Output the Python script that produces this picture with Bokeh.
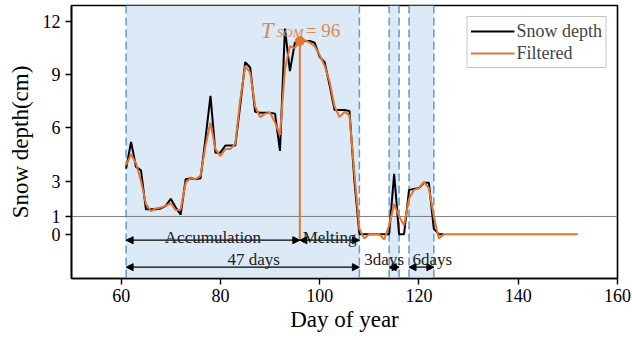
from bokeh.plotting import figure
from bokeh.models import (BoxAnnotation, Span, Arrow, NormalHead, Label, FixedTicker,
                          Range1d, Legend, LegendItem, ColumnDataSource)
from bokeh.embed import file_html
from bokeh.resources import INLINE

# ---------------- data ----------------
days_obs = list(range(61, 126))
snow_depth = [3.7, 5.2, 3.8, 3.6, 1.4, 1.4, 1.4, 1.45, 1.6, 2.0,
              1.5, 1.1, 3.1, 3.15, 3.1, 3.15, 5.4, 7.8, 4.6, 4.6,
              5.0, 5.0, 5.0, 7.3, 9.7, 9.4, 6.9, 6.85, 6.85, 6.85,
              6.8, 4.7, 11.6, 9.2, 10.8, 10.9, 10.9, 10.9, 10.8, 10.0,
              9.7, 8.4, 7.0, 7.0, 7.0, 6.95, 3.0, 0.0, 0.0, 0.0,
              0.0, 0.0, 0.0, 0.0, 3.4, 0.0, 0.0, 2.5, 2.55, 2.6,
              2.9, 2.9, 0.3, 0.0, 0.0]

days_flt = list(range(61, 153))
filtered = [3.9, 4.5, 4.0, 3.0, 1.7, 1.3, 1.45, 1.5, 1.6, 1.75,
            1.35, 1.4, 2.9, 3.2, 3.1, 3.3, 5.0, 6.3, 4.8, 4.4,
            4.8, 4.8, 5.1, 7.6, 9.5, 9.1, 7.2, 6.6, 6.8, 6.85,
            6.3, 5.6, 9.3, 10.6, 10.5, 10.9, 10.95, 10.8, 10.6, 10.1,
            9.5, 8.6, 7.2, 6.6, 6.9, 6.7, 3.4, 0.3, -0.25, 0.0,
            0.0, 0.0, -0.3, 0.5, 1.7, 1.0, 0.5, 2.0, 2.5, 2.6,
            2.95, 2.6, 1.0, -0.25, 0.0, 0.0, 0.0, 0.0, 0.0, 0.0,
            0.0, 0.0, 0.0, 0.0, 0.0, 0.0, 0.0, 0.0, 0.0, 0.0,
            0.0, 0.0, 0.0, 0.0, 0.0, 0.0, 0.0, 0.0, 0.0, 0.0,
            0.0, 0.0]

t_som = 96
som_value = 10.9
threshold = 1
periods = [(61, 108), (114, 116), (118, 123)]   # snow-cover periods
period_labels = ["47 days", "3days", "6days"]
phase_labels = ["Accumulation", "Melting"]
y_ticks = [0, 1, 3, 6, 9, 12]
x_ticks = [60, 80, 100, 120, 140, 160]

# ---------------- styling ----------------
FONT = "Liberation Serif"
ORANGE = "#e4742f"
ORANGE_TXT = "#d98a55"
BLUE = "#5b9bd5"
SHADE = "#dce9f6"

p = figure(width=632, height=340, output_backend="svg", toolbar_location=None,
           x_range=Range1d(50, 160), y_range=Range1d(-2.5, 12.9),
           min_border_left=71, min_border_right=15, min_border_top=5, min_border_bottom=62)
p.outline_line_color = "black"
p.outline_line_width = 1.6
p.xgrid.visible = False
p.ygrid.visible = False
p.background_fill_color = "white"

for ax in (p.xaxis[0], p.yaxis[0]):
    ax.axis_line_width = 1.6
    ax.major_tick_line_width = 1.4
    ax.major_tick_out = 6
    ax.major_tick_in = 0
    ax.minor_tick_out = 0
    ax.minor_tick_in = 0
    ax.major_label_text_font = FONT
    ax.major_label_text_font_size = "18px"
    ax.major_label_text_color = "black"
    ax.axis_label_text_font = FONT
    ax.axis_label_text_font_size = "23px"
    ax.axis_label_text_font_style = "normal"
    ax.axis_label_text_color = "black"
p.xaxis.ticker = FixedTicker(ticks=x_ticks)
p.yaxis.ticker = FixedTicker(ticks=y_ticks)
p.xaxis.axis_label = "Day of year"
p.yaxis.axis_label = "Snow depth(cm)"
p.xaxis.major_label_standoff = 4
p.xaxis.axis_label_standoff = 2
p.yaxis.major_label_standoff = 5
p.yaxis.axis_label_standoff = 7

# shaded periods and dashed boundaries
for (a, b) in periods:
    p.add_layout(BoxAnnotation(left=a, right=b, fill_color=SHADE, fill_alpha=1.0,
                               line_alpha=0, level="underlay"))
    for loc in (a, b):
        p.add_layout(Span(location=loc, dimension="height", line_color=BLUE,
                          line_width=1.5, line_dash="8 4", level="underlay"))

# threshold line
p.add_layout(Span(location=threshold, dimension="width", line_color="#7f7f7f",
                  line_width=1, level="underlay"))

src_obs = ColumnDataSource(dict(x=days_obs, y=snow_depth))
src_flt = ColumnDataSource(dict(x=days_flt, y=filtered))
r_obs = p.line("x", "y", source=src_obs, line_color="black", line_width=2)
r_flt = p.line("x", "y", source=src_flt, line_color=ORANGE, line_width=2)

# T_SOM marker
p.segment(x0=[t_som], y0=[-0.35], x1=[t_som], y1=[som_value], line_color=ORANGE, line_width=2)
p.scatter(x=[t_som], y=[som_value], size=9, color=ORANGE)

p.add_layout(Label(x=t_som, y=11.5, x_offset=-39, text="T", text_font=FONT,
                   text_font_style="italic", text_font_size="23px", text_color=ORANGE_TXT,
                   text_baseline="alphabetic"))
p.add_layout(Label(x=t_som, y=11.35, x_offset=-23, text="SOM", text_font=FONT,
                   text_font_style="italic", text_font_size="13px", text_color=ORANGE_TXT,
                   text_baseline="alphabetic"))
p.add_layout(Label(x=t_som, y=11.5, x_offset=6, text="= 96", text_font=FONT,
                   text_font_size="19px", text_color=ORANGE_TXT, text_baseline="alphabetic"))

# arrows
def darrow(x0, x1, y):
    p.add_layout(Arrow(x_start=x0, y_start=y, x_end=x1, y_end=y, line_width=1.3,
                       line_color="black",
                       start=NormalHead(size=7, fill_color="black", line_color="black"),
                       end=NormalHead(size=7, fill_color="black", line_color="black")))

row1, row2 = -0.34, -1.86
start, end = periods[0]
darrow(start, t_som, row1)
darrow(t_som, end, row1)
for (a, b) in periods:
    darrow(a, b, row2)

def txt(x, y, s, align="center", x_offset=0):
    p.add_layout(Label(x=x, y=y, x_offset=x_offset, text=s, text_font=FONT,
                       text_font_size="17px", text_color="#222222", text_align=align,
                       text_baseline="alphabetic"))

txt((start + t_som) / 2, -0.17, phase_labels[0])
txt((t_som + end) / 2, -0.17, phase_labels[1])
txt((start + end) / 2, -1.42, period_labels[0], x_offset=11)
txt(periods[0][1] + 1, -1.42, period_labels[1], align="left")
txt(periods[2][0] + 0.7, -1.42, period_labels[2], align="left")

legend = Legend(items=[LegendItem(label="Snow depth", renderers=[r_obs]),
                       LegendItem(label="Filtered", renderers=[r_flt])],
                location="top_right", margin=11, padding=3, spacing=0,
                glyph_width=44, glyph_height=22, label_height=22, label_standoff=2,
                label_text_font=FONT, label_text_font_size="18px",
                border_line_color="#8c8c8c", border_line_width=1,
                background_fill_alpha=1.0)
p.add_layout(legend)

open("out.html", "w").write(file_html(p, INLINE))
